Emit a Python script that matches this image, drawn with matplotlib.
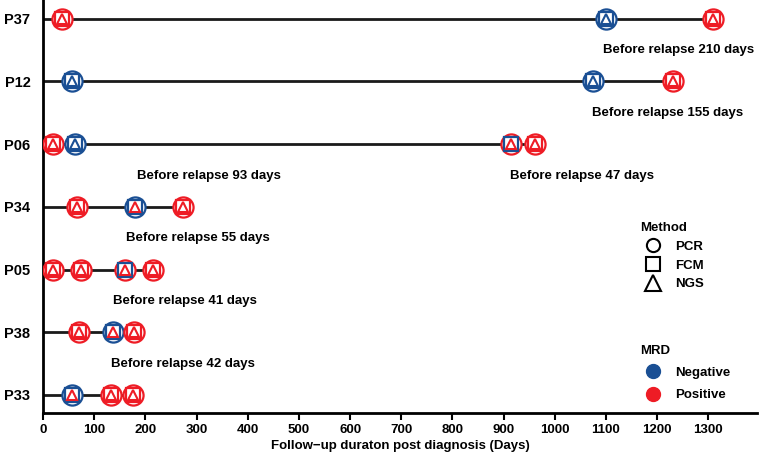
import matplotlib.pyplot as plt
from matplotlib.lines import Line2D

# MRD follow-up per patient: time points and MRD status per method
# status: 1 = positive, 0 = negative
patients = ["P33", "P38", "P05", "P34", "P06", "P12", "P37"]
days = [
    [56, 133, 175],
    [70, 137, 178],
    [20, 75, 160, 215],
    [66, 180, 273],
    [20, 62, 915, 962],
    [57, 1075, 1230],
    [37, 1100, 1310],
]
pcr = [
    [0, 1, 1],
    [1, 0, 1],
    [1, 1, 1, 1],
    [1, 0, 1],
    [1, 0, 1, 1],
    [0, 0, 1],
    [1, 0, 1],
]
fcm = [
    [0, 1, 1],
    [1, 0, 1],
    [1, 1, 0, 1],
    [1, 0, 1],
    [1, 0, 0, 1],
    [0, 0, 1],
    [1, 0, 1],
]
ngs = [
    [1, 1, 1],
    [1, 1, 1],
    [1, 1, 1, 1],
    [1, 1, 1],
    [1, 0, 1, 1],
    [0, 0, 1],
    [1, 0, 1],
]

# relapse notes: (row, x center in days, text)
notes = [
    (1, 274, "Before relapse 42 days"),
    (2, 277, "Before relapse 41 days"),
    (3, 303, "Before relapse 55 days"),
    (4, 324, "Before relapse 93 days"),
    (4, 1054, "Before relapse 47 days"),
    (5, 1220, "Before relapse 155 days"),
    (6, 1241, "Before relapse 210 days"),
]

blue = "#1a4f94"
red = "#ee1c25"
cols = {0: blue, 1: red}

plt.rcParams["font.family"] = ["Liberation Sans", "DejaVu Sans"]
plt.rcParams["font.weight"] = "bold"

fig = plt.figure(figsize=(7.62, 4.58), dpi=100)
ax = fig.add_axes([0.0564, 0.098, 0.937, 0.902])

for i, p in enumerate(patients):
    y = i + 1
    ax.plot([0, max(days[i])], [y, y], color="#1a1a1a", lw=2.0, zorder=1)
    for j, d in enumerate(days[i]):
        ax.plot(d, y, marker="o", ms=14.5, mfc="white", mec=cols[pcr[i][j]],
                mew=1.6, zorder=3)
        ax.plot(d, y, marker="s", ms=9.5, mfc="none", mec=cols[fcm[i][j]],
                mew=1.6, zorder=4)
        ax.plot(d, y, marker="^", ms=7, mfc="none", mec=cols[ngs[i][j]],
                mew=1.5, zorder=5)

for r, x, t in notes:
    ax.text(x, r + 0.5, t, ha="center", va="center", fontsize=9.5,
            fontweight="bold")

ax.set_xlim(0, 1395)
ax.set_ylim(0.71, 7.3)
ax.set_xticks(range(0, 1400, 100))
ax.set_yticks(range(1, len(patients) + 1))
ax.set_yticklabels(patients)
ax.tick_params(axis="x", length=5, width=1.5, labelsize=9.5, pad=3)
ax.tick_params(axis="y", length=0, labelsize=10.5, pad=9)
for lab in ax.get_xticklabels() + ax.get_yticklabels():
    lab.set_fontweight("bold")
ax.spines["top"].set_visible(False)
ax.spines["right"].set_visible(False)
ax.spines["left"].set_linewidth(2.0)
ax.spines["bottom"].set_linewidth(2.0)
ax.set_xlabel("Follow\u2212up duraton post diagnosis (Days)", fontsize=9.5,
              fontweight="bold", labelpad=3)

method_handles = [
    Line2D([], [], ls="", marker="o", ms=9.5, mfc="none", mec="black", mew=1.5),
    Line2D([], [], ls="", marker="s", ms=9.5, mfc="none", mec="black", mew=1.5),
    Line2D([], [], ls="", marker="^", ms=11, mfc="none", mec="black", mew=1.5),
]
leg1 = ax.legend(method_handles, ["PCR", "FCM", "NGS"], title="Method",
                 loc="upper left", bbox_to_anchor=(0.836, 0.463), frameon=False,
                 fontsize=9.5, title_fontproperties={"weight": "bold", "size": 9.5},
                 handletextpad=0.7, labelspacing=0.5, alignment="left",
                 borderaxespad=0, borderpad=0)
ax.add_artist(leg1)

mrd_handles = [
    Line2D([], [], ls="", marker="o", ms=10, mfc=blue, mec=blue),
    Line2D([], [], ls="", marker="o", ms=10, mfc=red, mec=red),
]
ax.legend(mrd_handles, ["Negative", "Positive"], title="MRD",
          loc="upper left", bbox_to_anchor=(0.836, 0.165), frameon=False,
          fontsize=9.5, title_fontproperties={"weight": "bold", "size": 9.5},
          handletextpad=0.7, labelspacing=0.75, alignment="left",
          borderaxespad=0, borderpad=0)

fig.savefig("out.png", dpi=100)
